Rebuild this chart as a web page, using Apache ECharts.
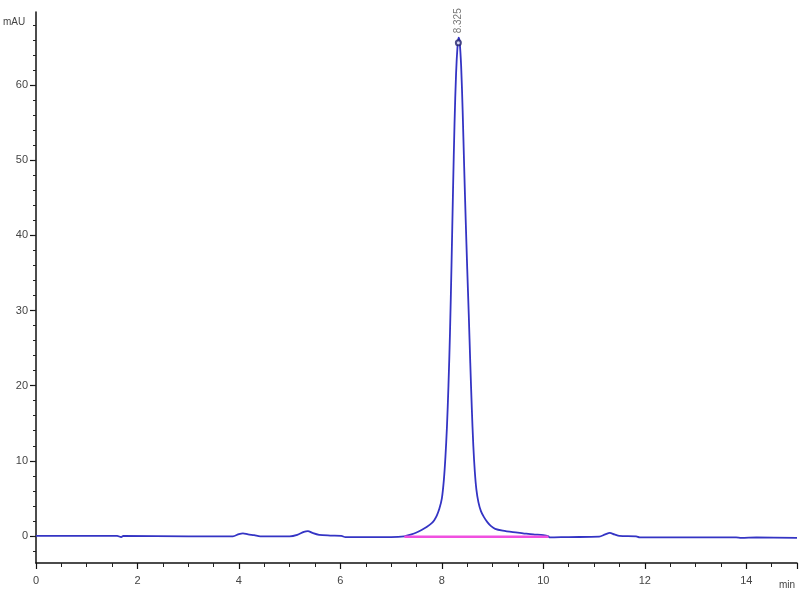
<!DOCTYPE html>
<html>
<head>
<meta charset="utf-8">
<script src="https://cdn.jsdelivr.net/npm/echarts@6/dist/echarts.min.js"></script>
<style>html,body{margin:0;padding:0;background:#fff}#c{width:800px;height:600px}</style>
</head>
<body>
<div id="c"></div>
<script>
// Chromatogram signal: retention time (min) and absorbance (mAU)
var signalTime = [0, 1.6, 1.68, 1.72, 3.0, 3.88, 4.0, 4.08, 4.18, 4.3, 4.42, 5.0, 5.15, 5.28, 5.36, 5.45, 5.58, 5.8, 6.02, 6.1, 7.0, 7.26,
  7.4, 7.5, 7.6, 7.7, 7.8, 7.85, 7.9, 7.95, 8.0, 8.04, 8.07, 8.1, 8.13, 8.16, 8.19, 8.22, 8.25, 8.28, 8.31, 8.33,
  8.35, 8.38, 8.41, 8.44, 8.47, 8.5, 8.53, 8.56, 8.59, 8.62, 8.65, 8.68, 8.72, 8.77, 8.83, 8.9, 8.97, 9.05, 9.2, 9.4, 9.6, 9.8, 10.0, 10.1,
  10.12, 10.5, 11.1, 11.22, 11.31, 11.4, 11.5, 11.83, 11.9, 13.8, 13.9, 14.2, 15.0];
var signalValue = [0, 0, -0.15, 0, -0.05, -0.05, 0.25, 0.35, 0.2, 0.1, -0.05, -0.05, 0.15, 0.55, 0.65, 0.4, 0.15, 0.05, 0.0, -0.15, -0.15, -0.05,
  0.2, 0.45, 0.8, 1.2, 1.7, 2.1, 2.7, 3.6, 5.0, 7.5, 10.5, 14.5, 20, 27, 36, 46, 55, 61.5, 65.3, 66.3,
  65.8, 62.5, 56.5, 49, 42, 35.5, 29.5, 23, 17, 12, 8.5, 6.2, 4.5, 3.3, 2.5, 1.8, 1.3, 0.95, 0.7, 0.5, 0.35, 0.2, 0.1, -0.05,
  -0.2, -0.15, -0.1, 0.2, 0.4, 0.2, 0.0, -0.05, -0.2, -0.2, -0.25, -0.2, -0.25];
// Integration baseline of the main peak
var baselineTime = [7.26, 10.1];
var baselineValue = [-0.1, -0.1];
// Peak annotation
var peakTime = [8.325];
var peakHeight = [65.6];
// Axis ticks
var xLabels = [0, 2, 4, 6, 8, 10, 12, 14];
var yLabels = [0, 10, 20, 30, 40, 50, 60];

var signal = signalTime.map(function (t, i) { return [t, signalValue[i]]; });
var baseline = baselineTime.map(function (t, i) { return [t, baselineValue[i]]; });
var peaks = peakTime.map(function (t, i) { return [t, peakHeight[i]]; });

var FONT = 'Liberation Sans';
var chart = echarts.init(document.getElementById('c'), null, { renderer: 'canvas' });
chart.setOption({
  backgroundColor: '#fff',
  animation: false,
  grid: [
    { left: 36, right: 3, top: 9.74, bottom: 34 },   // data grid (-4..70)
    { left: 36, right: 3, top: 12, bottom: 37 },     // visible frame (-3.6..69.7)
    { left: 36, right: 3, top: 85, bottom: 64 },     // major y ticks (0..60)
    { left: 36, right: 3, top: 24.8, bottom: 49 }    // minor y ticks (-2..68)
  ],
  xAxis: [
    { gridIndex: 0, type: 'value', min: 0, max: 15, show: false },
    { gridIndex: 1, type: 'value', min: 0, max: 15, interval: 2,
      axisLine: { show: true, onZero: false, lineStyle: { color: '#111', width: 1.5 } },
      axisTick: { show: true, length: 6, lineStyle: { color: '#111', width: 1.2 } },
      minorTick: { show: true, splitNumber: 4, length: 4, lineStyle: { color: '#222', width: 1 } },
      splitLine: { show: false },
      axisLabel: { show: true, margin: 12, fontFamily: FONT, fontSize: 11, color: '#444', showMaxLabel: false,
        formatter: function (v) { return xLabels.indexOf(v) >= 0 ? String(v) : ''; } } },
    { gridIndex: 2, type: 'value', min: 0, max: 15, show: false },
    { gridIndex: 3, type: 'value', min: 0, max: 15, show: false }
  ],
  yAxis: [
    { gridIndex: 0, type: 'value', min: -4, max: 70, show: false },
    { gridIndex: 1, type: 'value', min: -3.6, max: 69.7,
      axisLine: { show: true, onZero: false, lineStyle: { color: '#111', width: 1.5 } },
      axisTick: { show: false }, splitLine: { show: false }, axisLabel: { show: false } },
    { gridIndex: 2, type: 'value', min: 0, max: 60, interval: 10,
      axisLine: { show: false }, splitLine: { show: false },
      axisTick: { show: true, length: 6, lineStyle: { color: '#111', width: 1.2 } },
      axisLabel: { show: true, margin: 8, fontFamily: FONT, fontSize: 11, color: '#444',
        formatter: function (v) { return yLabels.indexOf(v) >= 0 ? String(v) : ''; } } },
    { gridIndex: 3, type: 'value', min: -2, max: 68, interval: 2,
      axisLine: { show: false }, splitLine: { show: false }, axisLabel: { show: false },
      axisTick: { show: true, length: 3, lineStyle: { color: '#222', width: 1 } } }
  ],
  graphic: [
    { type: 'text', left: 3, top: 17, style: { text: 'mAU', fontFamily: FONT, fontSize: 10, fill: '#444' } },
    { type: 'text', left: 779, top: 580, style: { text: 'min', fontFamily: FONT, fontSize: 10, fill: '#444' } }
  ],
  series: [
    { type: 'line', xAxisIndex: 0, yAxisIndex: 0, data: signal, showSymbol: false, smooth: 0.3,
      lineStyle: { color: '#3434c4', width: 1.8 }, z: 2 },
    { type: 'line', xAxisIndex: 0, yAxisIndex: 0, data: baseline, showSymbol: false,
      lineStyle: { color: '#f050e0', width: 2.4 }, z: 3 },
    { type: 'scatter', xAxisIndex: 0, yAxisIndex: 0, data: peaks, symbol: 'emptyCircle', symbolSize: 5,
      itemStyle: { color: '#22226a', borderColor: '#22226a', borderWidth: 1.2 }, z: 4,
      label: { show: true, position: 'top', distance: 6, rotate: 90, align: 'left', verticalAlign: 'middle',
        fontFamily: FONT, fontSize: 10, color: '#555',
        formatter: function (p) { return p.value[0].toFixed(3); } } }
  ]
});
</script>
</body>
</html>
